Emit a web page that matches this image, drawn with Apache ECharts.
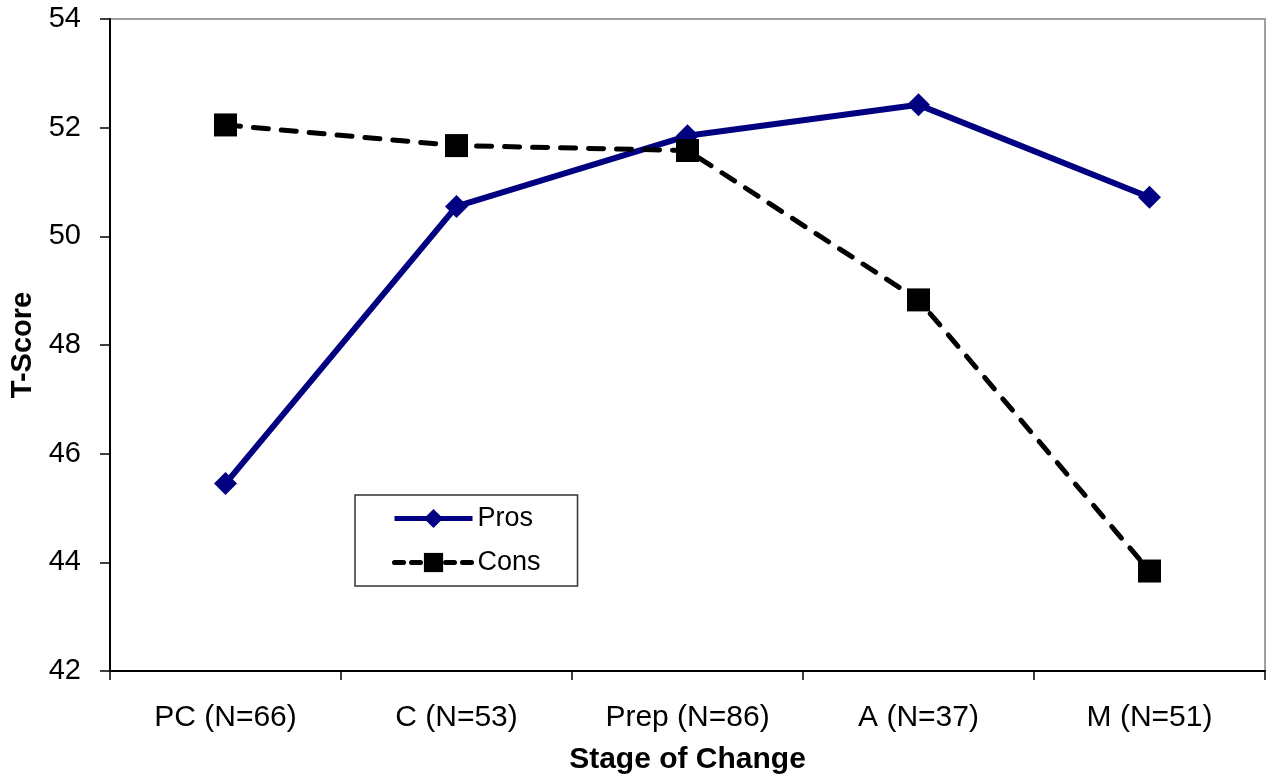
<!DOCTYPE html>
<html><head><meta charset="utf-8">
<script src="https://cdn.jsdelivr.net/npm/echarts@6/dist/echarts.min.js"></script>
<style>html,body{margin:0;padding:0;background:#fff}#c{width:1277px;height:784px}</style>
</head><body><div id="c"></div>
<script>
const categories = ['PC (N=66)', 'C (N=53)', 'Prep (N=86)', 'A (N=37)', 'M (N=51)'];
const pros = [45.45, 50.55, 51.85, 52.42, 50.72];
const cons = [52.05, 51.67, 51.58, 48.83, 43.84];
const yTicks = [42, 44, 46, 48, 50, 52, 54];

const font = '"Liberation Sans", Arial, sans-serif';
const chart = echarts.init(document.getElementById('c'));
chart.setOption({
  animation: false,
  backgroundColor: '#fff',
  grid: {left: 110, top: 19, right: 12, bottom: 113, containLabel: false, outerBoundsMode: 'none',
    show: true, borderColor: '#a0a0a0', borderWidth: 2, backgroundColor: 'transparent'},
  legend: {
    show: true, left: 355, top: 495, orient: 'vertical', itemWidth: 78, itemHeight: 24, itemGap: 17,
    padding: [10, 37, 10, 37], borderColor: '#333', borderWidth: 1.5, backgroundColor: '#fff',
    textStyle: {fontFamily: font, fontSize: 27, color: '#000'},
    data: [
      {name: 'Pros', lineStyle: {width: 5, color: '#000080'}},
      {name: 'Cons', lineStyle: {width: 5, color: '#000', type: [9, 8], cap: 'round'}}
    ]
  },
  xAxis: {
    type: 'category', data: categories, boundaryGap: true,
    name: 'Stage of Change', nameLocation: 'middle', nameGap: 74,
    nameTextStyle: {fontFamily: font, fontSize: 30, fontWeight: 'bold', color: '#000'},
    axisLine: {lineStyle: {color: '#000', width: 2}},
    axisTick: {show: true, length: 9, lineStyle: {color: '#000', width: 1.5}},
    axisLabel: {fontFamily: font, fontSize: 30, color: '#000', margin: 32}
  },
  yAxis: {
    type: 'value', min: 42, max: 54, interval: 2,
    name: 'T-Score', nameLocation: 'middle', nameGap: 64, nameRotate: 90,
    nameTextStyle: {fontFamily: font, fontSize: 29, fontWeight: 'bold', color: '#000'},
    axisLine: {show: true, lineStyle: {color: '#000', width: 2}},
    axisTick: {show: true, length: 10, lineStyle: {color: '#000', width: 1.5}},
    splitLine: {show: false},
    axisLabel: {fontFamily: font, fontSize: 29, color: '#000', margin: 29,
      formatter: v => yTicks.includes(v) ? String(v) : ''}
  },
  series: [
    {name: 'Pros', type: 'line', data: pros, symbol: 'diamond', symbolSize: 23,
     lineStyle: {color: '#000080', width: 6}, itemStyle: {color: '#000080'}, z: 3},
    {name: 'Cons', type: 'line', data: cons, symbol: 'rect', symbolSize: 23,
     lineStyle: {color: '#000', width: 5, type: [15, 13], cap: 'round'}, itemStyle: {color: '#000', borderRadius: 2}, z: 4}
  ]
});
</script></body></html>
